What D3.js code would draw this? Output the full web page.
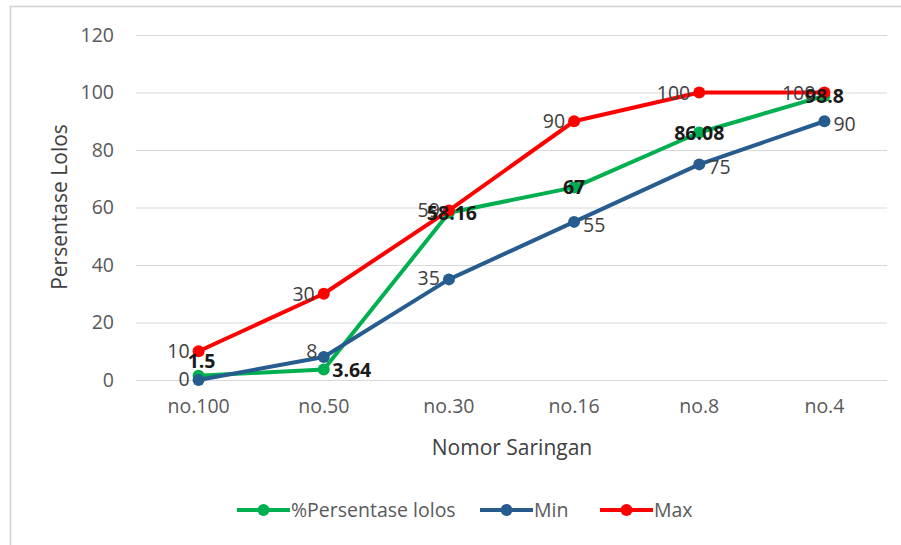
<!DOCTYPE html>
<html><head><meta charset="utf-8">
<script src="https://cdn.jsdelivr.net/npm/d3@7"></script>
<style>body{margin:0;background:#fff;} svg{display:block;font-family:"Open Sans",sans-serif;}</style>
</head><body>
<svg id="c" width="901" height="545"></svg>
<script>
const categories = ["no.100","no.50","no.30","no.16","no.8","no.4"];
const lolos = [1.5, 3.64, 58.16, 67, 86.08, 98.8];
const minVals = [0, 8, 35, 55, 75, 90];
const maxVals = [10, 30, 59, 90, 100, 100];
const yTicks = [0,20,40,60,80,100,120];
const seriesNames = ["%Persentase lolos","Min","Max"];
const colors = ["#00B050","#265C8E","#FF0000"];
const FS = 19.5;
const TS = 21;

const svg = d3.select("#c");
svg.append("rect").attr("x",10.5).attr("y",6.5).attr("width",900).attr("height",560)
  .attr("fill","none").attr("stroke","#d0d0d0").attr("stroke-width",1.5);

const x = d3.scaleBand().domain(categories).range([136,887]);
const y = d3.scaleLinear().domain([0,120]).range([380,35]);
const cx = d => x(d)+x.bandwidth()/2;

svg.append("g").selectAll("line").data(yTicks).join("line")
  .attr("x1",136).attr("x2",887).attr("y1",d=>y(d)+0.5).attr("y2",d=>y(d)+0.5)
  .attr("stroke","#d9d9d9").attr("stroke-width",1);

const yAxis = d3.axisLeft(y).tickValues(yTicks).tickSize(0).tickPadding(0);
const gy = svg.append("g").attr("transform","translate(114,0)").call(yAxis);
gy.select(".domain").remove();
gy.selectAll("text").attr("font-size",FS).attr("fill","#595959").attr("font-family","Open Sans");

const xAxis = d3.axisBottom(x).tickSize(0).tickPadding(0);
const gx = svg.append("g").attr("transform","translate(0,399)").call(xAxis);
gx.select(".domain").remove();
gx.selectAll("text").attr("font-size",FS).attr("fill","#595959").attr("font-family","Open Sans");

svg.append("text").attr("transform","translate(67,207) rotate(-90)").attr("text-anchor","middle")
  .attr("font-size",TS).attr("fill","#404040").text("Persentase Lolos");
svg.append("text").attr("x",512).attr("y",455).attr("text-anchor","middle")
  .attr("font-size",TS).attr("fill","#404040").text("Nomor Saringan");

const line = d3.line().x((d,i)=>cx(categories[i])).y(d=>y(d));
const allSeries = [lolos, minVals, maxVals];

allSeries.forEach((s,k)=>{
  const g = svg.append("g");
  g.append("path").datum(s).attr("d",line).attr("fill","none")
    .attr("stroke",colors[k]).attr("stroke-width",4).attr("stroke-linejoin","round");
  g.selectAll("circle").data(s).join("circle")
    .attr("cx",(d,i)=>cx(categories[i])).attr("cy",d=>y(d)).attr("r",6)
    .attr("fill",colors[k]);
});

const lab = svg.append("g").attr("font-size",FS);
lab.selectAll(".mx").data(maxVals).join("text")
  .attr("x",(d,i)=>cx(categories[i])-9).attr("y",d=>y(d)+7)
  .attr("text-anchor","end").attr("fill","#404040").text(d=>d);
const minPos = ["left","above","left","right","right","right"];
lab.selectAll(".mn").data(minVals).join("text")
  .attr("x",(d,i)=>{const p=minPos[i];const c=cx(categories[i]);return p==="left"?c-9:p==="right"?c+9:c-12;})
  .attr("y",(d,i)=>minPos[i]==="above"?y(d)+1:y(d)+(minPos[i]==="right"?10:6))
  .attr("text-anchor",(d,i)=>minPos[i]==="left"?"end":minPos[i]==="right"?"start":"middle")
  .attr("fill","#404040").text(d=>d);
const lolDx = [3, 28, 3, 0, 0, 0];
const lolDy = [-8, 7, 7, 7, 7, 7];
lab.selectAll(".ll").data(lolos).join("text")
  .attr("x",(d,i)=>cx(categories[i])+lolDx[i]).attr("y",(d,i)=>y(d)+lolDy[i])
  .attr("text-anchor","middle").attr("font-weight","bold").attr("fill","#1a1a1a").text(d=>d);

const legX = [237, 480, 600];
const legend = svg.append("g");
seriesNames.forEach((n,k)=>{
  const g = legend.append("g").attr("transform",`translate(${legX[k]},510)`);
  g.append("line").attr("x1",0).attr("x2",53).attr("stroke",colors[k]).attr("stroke-width",4);
  g.append("circle").attr("cx",26.5).attr("r",6).attr("fill",colors[k]);
  g.append("text").attr("x",54).attr("y",7).attr("font-size",FS).attr("fill","#595959").text(n);
});
</script>
</body></html>
